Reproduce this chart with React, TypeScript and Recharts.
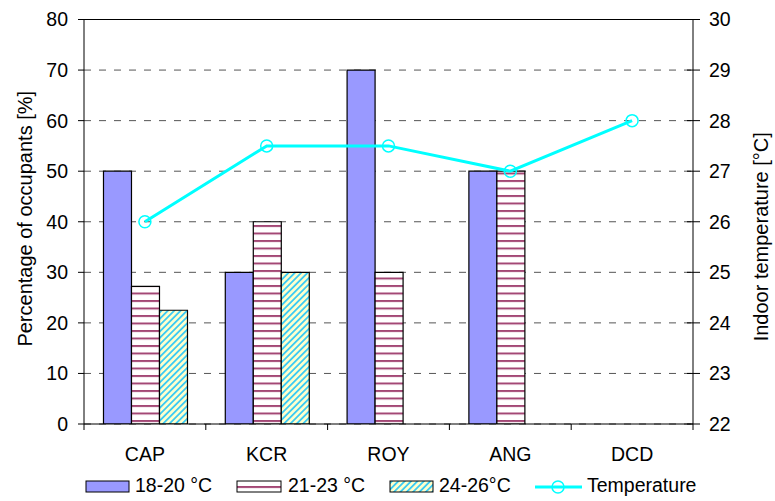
import React from 'react';
import { ComposedChart, Bar, Line, XAxis, YAxis, CartesianGrid, ReferenceLine, Legend } from 'recharts';

const categories = ['CAP', 'KCR', 'ROY', 'ANG', 'DCD'];
const share1820: (number | null)[] = [50, 30, 70, 50, null];
const share2123: (number | null)[] = [27.2, 40, 30, 50, null];
const share2426: (number | null)[] = [22.5, 30, null, null, null];
const temperature = [26, 27.5, 27.5, 27, 28];
const leftTicks = [0, 10, 20, 30, 40, 50, 60, 70, 80];
const rightTicks = [22, 23, 24, 25, 26, 27, 28, 29, 30];

const data = categories.map((name, i) => ({
  name,
  a: share1820[i],
  b: share2123[i],
  c: share2426[i],
  t: temperature[i],
}));

const FONT = '"Liberation Sans", Arial, sans-serif';
const FS = 19.5;

function XTick(props: any) {
  const { x, y, payload, index, visibleTicksCount } = props;
  const half = payload && typeof payload.offset === 'number' && payload.offset > 0 ? payload.offset : 60.9;
  const y0 = y - 23;
  return (
    <g>
      <line x1={x - half} x2={x - half} y1={y0} y2={y0 + 6} stroke="#000" strokeWidth={1} />
      {index === visibleTicksCount - 1 && (
        <line x1={x + half} x2={x + half} y1={y0} y2={y0 + 6} stroke="#000" strokeWidth={1} />
      )}
      <text x={x} y={y} dy="0.71em" textAnchor="middle" fontSize={FS} fontFamily={FONT} fill="#000">
        {payload.value}
      </text>
    </g>
  );
}

function RTick(props: any) {
  const { x, y, payload } = props;
  return (
    <g>
      <line x1={x - 22} x2={x - 9} y1={y} y2={y} stroke="#000" strokeWidth={1} />
      <text x={x} y={y} dy="0.355em" textAnchor="start" fontSize={FS} fontFamily={FONT} fill="#000">
        {payload.value}
      </text>
    </g>
  );
}

function LeftTitle(props: any) {
  const vb = props.viewBox || { x: 0, y: 19.5, width: 84, height: 404.5 };
  const cx = vb.x + 25;
  const cy = vb.y + vb.height / 2 - 3;
  return (
    <text x={cx} y={cy} transform={`rotate(-90 ${cx} ${cy})`} textAnchor="middle" dominantBaseline="central"
      fontSize={20} fontFamily={FONT} fill="#000">
      Percentage of occupants [%]
    </text>
  );
}

function RightTitle(props: any) {
  const vb = props.viewBox || { x: 693, y: 19.5, width: 82, height: 404.5 };
  const cx = vb.x + 68;
  const cy = vb.y + vb.height / 2 + 15;
  return (
    <text x={cx} y={cy} transform={`rotate(-90 ${cx} ${cy})`} textAnchor="middle" dominantBaseline="central"
      fontSize={20} fontFamily={FONT} fill="#000">
      Indoor temperature [°C]
    </text>
  );
}

function LegendContent() {
  const ty = 20.5;
  return (
    <svg width={775} height={30} style={{ display: 'block' }}>
      <rect x={86} y={10} width={43} height={11} fill="#9999FF" stroke="#000" strokeWidth={1} />
      <text x={135} y={ty} fontSize={FS} fontFamily={FONT} fill="#000">18-20 °C</text>
      <rect x={237} y={10} width={44} height={11} fill="url(#stripeH)" stroke="#000" strokeWidth={1} />
      <text x={288} y={ty} fontSize={FS} fontFamily={FONT} fill="#000">21-23 °C</text>
      <rect x={390} y={10} width={43} height={11} fill="url(#hatchD)" stroke="#000" strokeWidth={1} />
      <text x={439} y={ty} fontSize={FS} fontFamily={FONT} fill="#000">24-26°C</text>
      <line x1={535} x2={582} y1={16} y2={16} stroke="#00FFFF" strokeWidth={3} />
      <circle cx={558} cy={16} r={6} fill="none" stroke="#00FFFF" strokeWidth={1.5} />
      <text x={587} y={ty} fontSize={FS} fontFamily={FONT} fill="#000">Temperature</text>
    </svg>
  );
}

export default function App() {
  return (
    <div style={{ position: 'absolute', left: 0, top: 0, width: 775, height: 501, background: '#fff' }}>
      <ComposedChart
        width={775}
        height={501}
        data={data}
        margin={{ top: 19.5, right: 0, bottom: 0, left: 0 }}
        barCategoryGap="16%"
        barGap={0}
        style={{ fontFamily: FONT }}
      >
        <defs>
          <pattern id="stripeH" patternUnits="userSpaceOnUse" width={8} height={7.5}>
            <rect x={0} y={0} width={8} height={7.5} fill="#ffffff" />
            <rect x={0} y={0} width={8} height={2} fill="#993366" fillOpacity={0.9} />
          </pattern>
          <pattern id="hatchD" patternUnits="userSpaceOnUse" width={4.5} height={4.5} patternTransform="rotate(45)">
            <rect x={0} y={0} width={4.5} height={4.5} fill="#FFFFCC" />
            <rect x={0} y={0} width={1.8} height={4.5} fill="#3CCBF4" />
          </pattern>
        </defs>
        <CartesianGrid yAxisId="l" vertical={false} stroke="#555" strokeDasharray="7 8" />
        <XAxis
          dataKey="name"
          height={47}
          interval={0}
          axisLine={{ stroke: '#000', strokeWidth: 1 }}
          tickLine={false}
          tickSize={6}
          tickMargin={17}
          tick={<XTick />}
        />
        <YAxis
          yAxisId="l"
          orientation="left"
          width={84}
          domain={[0, 80]}
          ticks={leftTicks}
          interval={0}
          allowDataOverflow
          axisLine={{ stroke: '#000', strokeWidth: 1 }}
          tickLine={{ stroke: '#000', strokeWidth: 1 }}
          tickSize={6}
          tickMargin={10}
          tick={{ fill: '#000', fontSize: FS, fontFamily: FONT }}
          label={(p: any) => <LeftTitle {...p} />}
        />
        <YAxis
          yAxisId="r"
          orientation="right"
          width={82}
          domain={[22, 30]}
          ticks={rightTicks}
          interval={0}
          allowDataOverflow
          axisLine={{ stroke: '#000', strokeWidth: 1 }}
          tickLine={false}
          tickSize={7}
          tickMargin={9}
          tick={<RTick />}
          label={(p: any) => <RightTitle {...p} />}
        />
        <ReferenceLine yAxisId="l" y={80} stroke="#000" strokeWidth={1} />
        <Bar yAxisId="l" dataKey="a" name="18-20 °C" fill="#9999FF" stroke="#000" strokeWidth={1.2} isAnimationActive={false} />
        <Bar yAxisId="l" dataKey="b" name="21-23 °C" fill="url(#stripeH)" stroke="#000" strokeWidth={1.2} isAnimationActive={false} />
        <Bar yAxisId="l" dataKey="c" name="24-26°C" fill="url(#hatchD)" stroke="#000" strokeWidth={1.2} isAnimationActive={false} />
        <Line
          yAxisId="r"
          dataKey="t"
          name="Temperature"
          stroke="#00FFFF"
          strokeWidth={3}
          dot={{ r: 6, stroke: '#00FFFF', strokeWidth: 1.5, fill: 'none' }}
          activeDot={false}
          isAnimationActive={false}
        />
        <Legend verticalAlign="bottom" height={30} content={() => <LegendContent />} wrapperStyle={{ left: 0, width: 775 }} />
      </ComposedChart>
    </div>
  );
}
